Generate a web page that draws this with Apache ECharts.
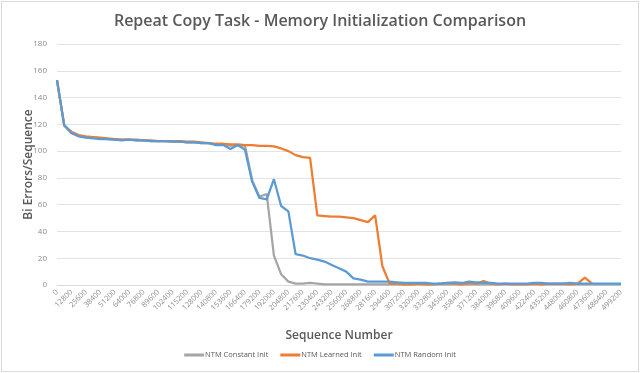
<!DOCTYPE html>
<html>
<head>
<meta charset="utf-8">
<script src="https://cdn.jsdelivr.net/npm/echarts@6/dist/echarts.min.js"></script>
<style>
html,body{margin:0;padding:0;background:#fff;}
#c{position:absolute;left:1px;top:1px;width:636px;height:369px;border:1px solid #d9d9d9;}
</style>
</head>
<body>
<div id="c"></div>
<script>
var titleText = 'Repeat Copy Task - Memory Initialization Comparison';
var yAxisName = 'Bi Errors/Sequence';
var xAxisName = 'Sequence Number';
var seriesNames = ['NTM Constant Init', 'NTM Learned Init', 'NTM Random Init'];

// categories: 0 .. 499200 step 6400
var categories = [];
for (var i = 0; i <= 78; i++) categories.push(String(i * 6400));

var constantInit = [153,119,113.5,111.5,110.5,110,109.5,109,108.5,108.5,108.5,108,108,107.5,107.5,107.5,107,107,106.5,106.5,106,106,105,105,104,104.5,104,78,66,68,22,8,2.5,1,1,1.5,1,0.5,0.5,0.5,0.5,0.5,0.5,0.5,0.5,0.5,0.5,0.5,0.5,0.5,0.5,0.5,0.5,0.5,0.5,0.5,0.5,0.5,0.5,0.5,0.5,0.5,0.5,0.5,0.5,0.5,0.5,0.5,0.5,0.5,0.5,0.5,0.5,0.5,0.5,0.5,0.5,0.5,0.5];

var learnedInit = [153,119,114.5,112,111,110.5,110,109.5,109,108.5,108.5,108.5,108,108,107.5,107.5,107.5,107.5,107,107,106.5,106,105.5,105.5,105,105,104.5,104.5,104,104,103.5,102,100,97,95.5,95,52,51.5,51,51,50.5,50,48.5,47,52,14,1,1,0.5,0.5,1,0.5,0.5,1,1.5,1,0.5,1.5,1,3,1,0.5,1,0.5,0.5,0.5,1,0.5,1,1,1,0.5,1,5.5,1,null,null,null,null];

var randomInit = [153,119.5,113.5,111,110,109.5,109,109,108.5,108,108.5,108,108,107.5,107.5,107.5,107,107,106.5,106.5,106,106,104.5,104.5,101.5,104.5,101,77,65,64,79,59,55,23,22,20,19,17.5,15,12.5,10,5,4,2.5,2.5,2.5,2.5,2,1.5,1.5,1.5,1.5,1,1,1.5,2,1.5,2.5,2,1.5,1.5,1,1,1,1,1,1.5,1.5,1,1,1,1.5,1,1,1,1,1,1,1];

var colors = ['#A5A5A5', '#ED7D31', '#5B9BD5'];
var dataSets = [constantInit, learnedInit, randomInit];

var chart = echarts.init(document.getElementById('c'));
var series = seriesNames.map(function (n, k) {
  return {
    name: n, type: 'line', data: dataSets[k], showSymbol: false, symbol: 'none',
    lineStyle: {width: 2.25, color: colors[k]}, itemStyle: {color: colors[k]},
    connectNulls: false, animation: false
  };
});
chart.setOption({
  animation: false,
  title: {
    text: titleText, left: 'center', top: 6,
    textStyle: {fontFamily: 'Open Sans', fontSize: 16, fontWeight: 600, color: '#595959'}
  },
  grid: {left: 55, right: 17, top: 42, bottom: 86},
  legend: {
    bottom: 7, left: 'center', itemWidth: 20, itemHeight: 3, icon: 'rect', itemGap: 12,
    textStyle: {fontFamily: 'Open Sans', fontSize: 7.5, color: '#595959', padding: [0,0,0,-4]},
    data: seriesNames
  },
  xAxis: {
    type: 'category', data: categories, boundaryGap: false,
    name: xAxisName, nameLocation: 'middle', nameGap: 45,
    nameTextStyle: {fontFamily: 'Open Sans', fontSize: 12, fontWeight: 600, color: '#595959'},
    axisLine: {lineStyle: {color: '#d9d9d9', width: 1}},
    axisTick: {show: false},
    axisLabel: {interval: 1, rotate: 45, fontFamily: 'Open Sans', fontSize: 7.5, color: '#8c8c8c', margin: 6},
    splitLine: {show: false}
  },
  yAxis: {
    type: 'value', min: 0, max: 180, interval: 20,
    name: yAxisName, nameLocation: 'middle', nameGap: 22, nameRotate: 90, nameMoveOverlap: false,
    nameTextStyle: {fontFamily: 'Open Sans', fontSize: 12, fontWeight: 600, color: '#595959'},
    axisLine: {show: false}, axisTick: {show: false},
    axisLabel: {fontFamily: 'Open Sans', fontSize: 8, color: '#8c8c8c', margin: 10},
    splitLine: {lineStyle: {color: '#e3e3e3', width: 1}}
  },
  series: series
});
</script>
</body>
</html>
